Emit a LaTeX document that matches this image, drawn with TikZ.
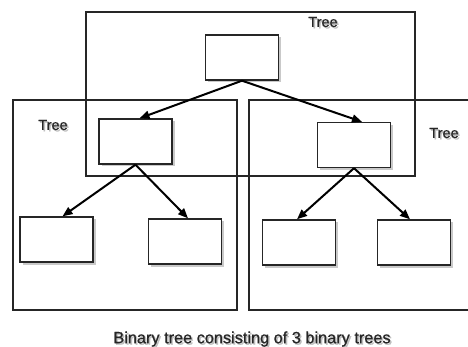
\documentclass[tikz,border=0pt]{standalone}
\usepackage{fontspec}
\setmainfont{Liberation Sans}
\newfontfamily\lblfont[FakeBold=0.8]{Liberation Sans}
\usetikzlibrary{arrows.meta,shadows}
\begin{document}
\begin{tikzpicture}[x=1pt,y=-1pt,
  treebox/.style={draw=black!85,line width=1.3pt},
  leaf/.style={draw=black!85,line width=1.4pt,fill=white,minimum width=73pt,minimum height=45pt,inner sep=0pt,
    drop shadow={shadow xshift=2.5pt,shadow yshift=-2.5pt,opacity=0.35,fill=black!60}},
  link/.style={line width=2pt,-{Triangle[length=10pt,width=8pt]}},
  lbl/.style={font=\lblfont\fontsize{14.5}{17}\selectfont,text=black!85},
  lblshadow/.style={font=\lblfont\fontsize{14.5}{17}\selectfont,text=black!25},
  capfont/.style={font=\lblfont\fontsize{16.3}{19}\selectfont}]
\useasboundingbox (0,0) rectangle (468,347);
\fill[white] (0,0) rectangle (468,347);
% tree boxes
\draw[treebox] (86,12) rectangle (415,176);
\draw[treebox] (13,100) rectangle (237,310);
\draw[treebox] (470,100) -- (249,100) -- (249,310) -- (470,310);
% label shadows
\node[lblshadow] (s1) at (324.5,23.5) {Tree};
\node[lblshadow] (s2) at (54.5,126.5) {Tree};
\node[lblshadow] (s3) at (445.5,134.5) {Tree};
\node[lblshadow,capfont] (scap) at (253.5,340.5) {Binary tree consisting of 3 binary trees};
% labels
\node[lbl] (t1) at (323,22) {Tree};
\node[lbl] (t2) at (53,125) {Tree};
\node[lbl] (t3) at (444,133) {Tree};
% nodes
\node[leaf] (root) at (242,57.5) {};
\node[leaf] (lc) at (135.5,141.5) {};
\node[leaf] (rc) at (354,145) {};
\node[leaf] (ll) at (56.5,239.5) {};
\node[leaf] (lr) at (185,241.5) {};
\node[leaf] (rl) at (299,242.5) {};
\node[leaf] (rr) at (414,242.5) {};
% links
\draw[link] (root.south) -- ([xshift=4pt]lc.north);
\draw[link] (root.south) -- ([xshift=8pt]rc.north);
\draw[link] (lc.south) -- ([xshift=6pt]ll.north);
\draw[link] (lc.south) -- ([xshift=3pt]lr.north);
\draw[link] (rc.south) -- ([xshift=-2pt]rl.north);
\draw[link] (rc.south) -- ([xshift=-4pt]rr.north);
% caption
\node[lbl,capfont] (cap) at (252,339) {Binary tree consisting of 3 binary trees};
\end{tikzpicture}
\end{document}
